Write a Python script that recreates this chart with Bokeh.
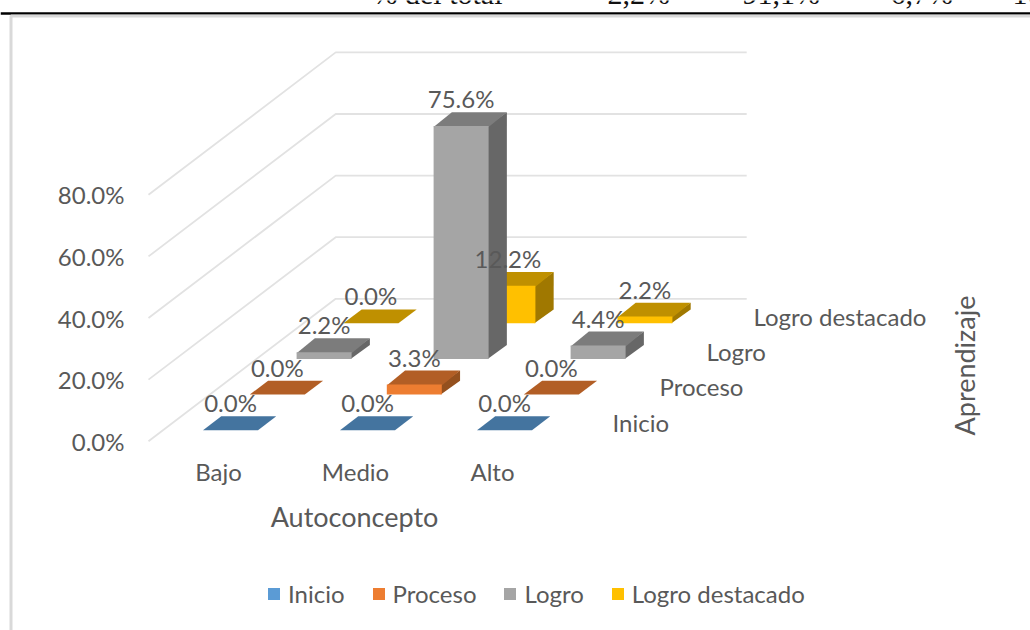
from math import pi
from bokeh.core.properties import value
from bokeh.embed import file_html
from bokeh.models import FixedTicker, Legend, LegendItem, PrintfTickFormatter
from bokeh.plotting import figure
from bokeh.resources import INLINE

# ---- data ----
categories = ["Bajo", "Medio", "Alto"]
series_names = ["Inicio", "Proceso", "Logro", "Logro destacado"]
inicio = [0.0, 0.0, 0.0]
proceso = [0.0, 3.3, 0.0]
logro = [2.2, 75.6, 4.4]
logro_destacado = [0.0, 12.2, 2.2]
y_ticks = [0, 20, 40, 60, 80]
axis_title_x = "Autoconcepto"
axis_title_z = "Aprendizaje"
table_labels = ["% del total", "2,2%", "91,1%", "6,7%", "100,0%"]

series_values = [inicio, proceso, logro, logro_destacado]
front_colors = ["#5B9BD5", "#ED7D31", "#A5A5A5", "#FFC000"]
top_colors = ["#44749F", "#B25E25", "#7C7C7C", "#BF9000"]
side_colors = ["#376087", "#94501E", "#676767", "#A07800"]

# ---- oblique projection: category unit = 137 px, 1 % = 3.08 px ----
W, H = 1030, 630
PX_CAT, PX_PCT = 137.0, 3.08
X0, Y0 = 218.0, 440.7


def sx(px):
    return (px - X0) / PX_CAT


def sy(py):
    return (Y0 - py) / PX_PCT


DEPTH_X = 46.8 / PX_CAT          # per series row
DEPTH_Y = 35.6 / PX_PCT
FLOOR_X = sx(148)                # front-left corner of the floor
BAR_W = 55 / PX_CAT
BAR_GAP = 40.0 / PX_CAT
BAR_D = 0.39
BAR_D0 = 0.31
SEAM_X = 1 / PX_CAT              # faces overlap under the front face
SEAM_Y = 1 / PX_PCT


def proj(c, depth):
    """x of left edge of category slot c at depth (rows), y offset in %."""
    return FLOOR_X + c + depth * DEPTH_X, depth * DEPTH_Y


p = figure(width=W, height=H, x_range=(sx(0), sx(W)), y_range=(sy(H), sy(0)),
           output_backend="svg", toolbar_location=None, min_border=0,
           outline_line_color=None, background_fill_color="white",
           border_fill_color="white")
p.styles = {"position": "absolute", "left": "0px", "top": "0px"}
p.grid.visible = False

FONT = value("Lato")
GREY = "#595959"
LABEL_PX = "24px"
TITLE_PX = "27px"

# ---- walls: gridlines ----
n_rows = len(series_names)
n_cats = len(categories)
gx, gy = [], []
for t in y_ticks:
    x_front, _ = proj(0, 0)
    x_back, dy = proj(0, n_rows)
    x_right, _ = proj(n_cats, n_rows)
    gx.append([x_front, x_back, x_right])
    gy.append([t, t + dy, t + dy])
p.multi_line(gx, gy, line_color="#E2E2E2", line_width=1.8)

# ---- bars, back row first ----
legend_renderers = {}
for s in reversed(range(n_rows)):
    vals = series_values[s]
    lefts, rights, bases, tops = [], [], [], []
    top_x, top_y, side_x, side_y = [], [], [], []
    for c, v in enumerate(vals):
        xs_, base = proj(c, s + BAR_D0)
        x_l = xs_ + BAR_GAP
        x_r = x_l + BAR_W
        ddx, ddy = BAR_D * DEPTH_X, BAR_D * DEPTH_Y
        seam_x = SEAM_X if v > 0 else 0
        seam_y = SEAM_Y if v > 0 else 0
        lefts.append(x_l); rights.append(x_r); bases.append(base); tops.append(base + v)
        top_x.append([x_l, x_r, x_r + ddx, x_l + ddx])
        top_y.append([base + v - seam_y, base + v - seam_y, base + v + ddy, base + v + ddy])
        side_x.append([x_r - seam_x, x_r + ddx, x_r + ddx, x_r - seam_x])
        side_y.append([base, base + ddy, base + v + ddy, base + v])
    p.patches(side_x, side_y, fill_color=side_colors[s], line_color=None)
    p.patches(top_x, top_y, fill_color=top_colors[s], line_color=None)
    legend_renderers[s] = p.quad(left=lefts, right=rights, bottom=bases, top=tops,
                                 fill_color=front_colors[s], line_color=None)

# ---- data labels ----
lx, ly, lt = [], [], []
for s in range(n_rows):
    for c, v in enumerate(series_values[s]):
        xs_, base = proj(c, s + BAR_D0)
        lx.append(xs_ + BAR_GAP + BAR_W / 2)
        ly.append(base + v + BAR_D * DEPTH_Y + 13.5 / PX_PCT)
        lt.append(f"{v:.1f}%")
p.text(lx, ly, text=lt, text_font=FONT, text_font_size=LABEL_PX, text_color=GREY,
       text_align="center", text_baseline="middle")

# ---- axes ----
p.yaxis.fixed_location = FLOOR_X
p.yaxis.ticker = FixedTicker(ticks=y_ticks)
p.yaxis.formatter = PrintfTickFormatter(format="%.1f%%")
p.yaxis.axis_line_color = None
p.yaxis.major_tick_line_color = None
p.yaxis.minor_tick_line_color = None
p.yaxis.major_label_standoff = 18
p.yaxis.major_label_text_font = "Lato"
p.yaxis.major_label_text_font_size = LABEL_PX
p.yaxis.major_label_text_color = GREY

p.xaxis.fixed_location = sy(450)
p.xaxis.ticker = FixedTicker(ticks=list(range(n_cats)))
p.xaxis.major_label_overrides = {i: name for i, name in enumerate(categories)}
p.xaxis.axis_line_color = None
p.xaxis.major_tick_line_color = None
p.xaxis.minor_tick_line_color = None
p.xaxis.major_label_standoff = 0
p.xaxis.major_label_text_font = "Lato"
p.xaxis.major_label_text_font_size = LABEL_PX
p.xaxis.major_label_text_color = GREY

# ---- depth axis labels ----
zx = [sx(612) + i * 47.0 / PX_CAT for i in range(n_rows)]
zy = [sy(421.5) + i * 35.3 / PX_PCT for i in range(n_rows)]
p.text(zx, zy, text=series_names, text_font=FONT, text_font_size=LABEL_PX,
       text_color=GREY, text_align="left", text_baseline="middle")

p.text([sx(354)], [sy(515.5)], text=[axis_title_x], text_font=FONT, text_font_size=TITLE_PX,
       text_color=GREY, text_align="center", text_baseline="middle")
p.text([sx(963.5)], [sy(365)], text=[axis_title_z], text_font=FONT, text_font_size=TITLE_PX,
       text_color=GREY, text_align="center", text_baseline="middle", angle=pi / 2)

# ---- legend ----
legend = Legend(items=[LegendItem(label=name, renderers=[legend_renderers[i]])
                       for i, name in enumerate(series_names)],
                orientation="horizontal", location=(266, 22),
                border_line_color=None, background_fill_alpha=0,
                glyph_width=15, glyph_height=15, label_standoff=7, spacing=26,
                padding=0, margin=0, label_text_font="Lato",
                label_text_font_size=LABEL_PX, label_text_color=GREY)
p.add_layout(legend, "center")

# ---- surrounding document: table row above, rule, chart frame ----
p.line([sx(0), sx(W)], [sy(13), sy(13)], line_color="black", line_width=2.4)
p.line([sx(10.5), sx(10.5), sx(W)], [sy(H), sy(15.5), sy(15.5)], line_color="#D9D9D9", line_width=3)
tbl_x = [372, 607, 742, 890, 1012]
p.text([sx(v) for v in tbl_x], [sy(-7)] * len(tbl_x), text=table_labels,
       text_font=value("Liberation Serif"), text_font_size="30px", text_color="#111111",
       text_align="left", text_baseline="alphabetic")

open("out.html", "w").write(file_html(p, INLINE))
